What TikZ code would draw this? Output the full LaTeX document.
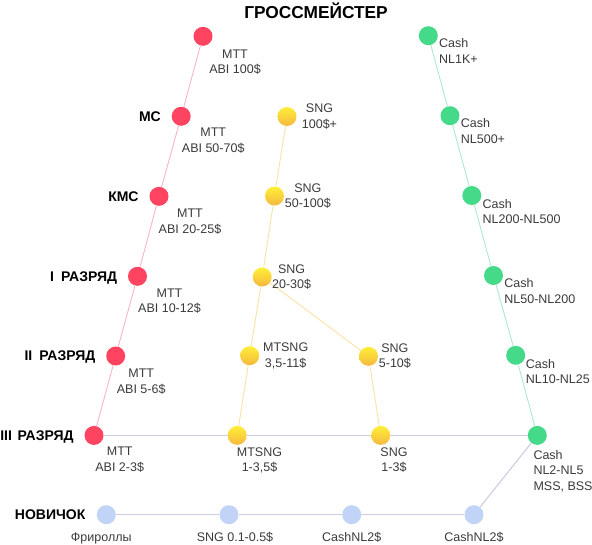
\documentclass[tikz,border=0pt]{standalone}
\usepackage{fontspec}
\setmainfont{Liberation Sans}
\usepackage{tikz}
\usetikzlibrary{positioning, backgrounds}
\usepackage{xcolor}
\definecolor{mttred}{HTML}{FF4462}
\definecolor{mttline}{HTML}{F7B6C6}
\definecolor{sngtop}{HTML}{FFEF38}
\definecolor{sngbot}{HTML}{F4B83E}
\definecolor{sngline}{HTML}{F8E2A6}
\definecolor{cashgreen}{HTML}{45D98A}
\definecolor{cashline}{HTML}{AEE8CB}
\definecolor{newblue}{HTML}{C2D3F8}
\definecolor{baseline}{HTML}{CBCEE2}
\definecolor{lbltext}{HTML}{3A3A3A}
\tikzset{
  dot/.style={circle, minimum size=19pt, inner sep=0pt},
  rdot/.style={dot, fill=mttred},
  ydot/.style={dot, top color=sngtop, bottom color=sngbot},
  gdot/.style={dot, fill=cashgreen},
  bdot/.style={dot, fill=newblue},
  lbl/.style={inner sep=0pt, align=center, text=lbltext,
              font=\fontsize{12.5}{15.5}\selectfont},
  glbl/.style={lbl, align=left},
  rank/.style={inner sep=0pt, text depth=0pt,
               font=\bfseries\fontsize{14}{16}\selectfont},
  rline/.style={draw=mttline, line width=0.9pt},
  yline/.style={draw=sngline, line width=0.9pt},
  gline/.style={draw=cashline, line width=0.9pt},
  hline/.style={draw=baseline, line width=1.1pt},
}

\begin{document}
\begin{tikzpicture}[x=1pt, y=-1pt]
    \useasboundingbox (0,0) rectangle (592,544);
    \node[rank, font=\bfseries\fontsize{17.3}{20}\selectfont] (title)
          at (316,10.5) {ГРОССМЕЙСТЕР};
    % MTT
    \node[rdot] (r1) at (203,36.3) {};
    \node[rdot] (r2) at (181.2,116.3) {};
    \node[rdot] (r3) at (159,196.3) {};
    \node[rdot] (r4) at (137.5,276.3) {};
    \node[rdot] (r5) at (115.7,356) {};
    \node[rdot] (r6) at (94,435.4) {};
    % SNG
    \node[ydot] (y1) at (287,116.5) {};
    \node[ydot] (y2) at (274.5,196) {};
    \node[ydot] (y3) at (262.2,277) {};
    \node[ydot] (y4) at (249.7,355.7) {};
    \node[ydot] (y5) at (368.5,356.3) {};
    \node[ydot] (y6) at (237.2,435.4) {};
    \node[ydot] (y7) at (380.7,435.4) {};
    % Cash
    \node[gdot] (g1) at (428.3,35.7) {};
    \node[gdot] (g2) at (450,115.7) {};
    \node[gdot] (g3) at (471.8,195.5) {};
    \node[gdot] (g4) at (493.5,275.5) {};
    \node[gdot] (g5) at (515.7,355.3) {};
    \node[gdot] (g6) at (537.3,435.4) {};
    % novice
    \node[bdot] (b1) at (106.3,514.7) {};
    \node[bdot] (b2) at (229,514.7) {};
    \node[bdot] (b3) at (351.7,514.7) {};
    \node[bdot] (b4) at (474,514.7) {};

    \begin{scope}[on background layer]
      \draw[rline] (r1)--(r2); \draw[rline] (r2)--(r3); \draw[rline] (r3)--(r4);
      \draw[rline] (r4)--(r5); \draw[rline] (r5)--(r6);
      \draw[yline] (y1)--(y2); \draw[yline] (y2)--(y3); \draw[yline] (y3)--(y4);
      \draw[yline] (y4)--(y6); \draw[yline] (y3)--(y5); \draw[yline] (y5)--(y7);
      \draw[gline] (g1)--(g2); \draw[gline] (g2)--(g3); \draw[gline] (g3)--(g4);
      \draw[gline] (g4)--(g5); \draw[gline] (g5)--(g6);
      \draw[hline] (r6)--(y6); \draw[hline] (y6)--(y7); \draw[hline] (y7)--(g6);
      \draw[hline] (b1)--(b2); \draw[hline] (b2)--(b3); \draw[hline] (b3)--(b4);
      \draw[hline] (b4)--(g6);
    \end{scope}

    \node[rank, left=10.5pt of r2] (ms) {МС};
    \node[rank, left=10.5pt of r3] (kms) {КМС};
    \node[rank, left=10.5pt of r4] (rank1) {I\enspace РАЗРЯД};
    \node[rank, left=10.5pt of r5] (rank2) {II\enspace РАЗРЯД};
    \node[rank, left=10.5pt of r6] (rank3) {III\hspace{0.4em}РАЗРЯД};
    \node[rank, left=11pt of b1] (novice) {НОВИЧОК};

    \node[lbl, below=3.5pt of r1, xshift=32pt] (r1t) {MTT\\ABI 100\$};
    \node[lbl, below=2pt of r2, xshift=32pt] (r2t) {MTT\\ABI 50-70\$};
    \node[lbl, below=3pt of r3, xshift=31pt] (r3t) {MTT\\ABI 20-25\$};
    \node[lbl, below=2.5pt of r4, xshift=32pt] (r4t) {MTT\\ABI 10-12\$};
    \node[lbl, below=3pt of r5, xshift=25.5pt] (r5t) {MTT\\ABI 5-6\$};
    \node[lbl, below=2pt of r6, xshift=25.7pt] (r6t) {MTT\\ABI 2-3\$};

    \node[lbl, right=5pt of y1] (y1t) {SNG\\100\$+};
    \node[lbl, right=0.5pt of y2] (y2t) {SNG\\50-100\$};
    \node[lbl, right=0pt of y3] (y3t) {SNG\\20-30\$};
    \node[lbl, right=3.5pt of y4] (y4t) {MTSNG\\3,5-11\$};
    \node[lbl, right=0.5pt of y5] (y5t) {SNG\\5-10\$};
    \node[lbl, below=2.3pt of y6, xshift=22.3pt] (y6t) {MTSNG\\1-3,5\$};
    \node[lbl, below=2.3pt of y7, xshift=13.3pt] (y7t) {SNG\\1-3\$};

    \node[glbl, right=1pt of g1, anchor=north west, yshift=-2.6pt] (g1t) {Cash\\NL1K+};
    \node[glbl, right=1pt of g2, anchor=north west, yshift=-2.6pt] (g2t) {Cash\\NL500+};
    \node[glbl, right=1pt of g3, anchor=north west, yshift=-3.5pt] (g3t) {Cash\\NL200-NL500};
    \node[glbl, right=1pt of g4, anchor=north west, yshift=-2.8pt] (g4t) {Cash\\NL50-NL200};
    \node[glbl, right=0.3pt of g5, anchor=north west, yshift=-3.8pt] (g5t) {Cash\\NL10-NL25};
    \node[glbl, below=5pt of g6, anchor=north west, xshift=-4pt] (g6t) {Cash\\NL2-NL5\\MSS, BSS};

    \node[lbl, below=8pt of b1, xshift=-5pt] (b1t) {Фрироллы};
    \node[lbl, below=8pt of b2, xshift=6pt] (b2t) {SNG 0.1-0.5\$};
    \node[lbl, below=8pt of b3] (b3t) {CashNL2\$};
    \node[lbl, below=8pt of b4] (b4t) {CashNL2\$};
  \end{tikzpicture}
\end{document}
